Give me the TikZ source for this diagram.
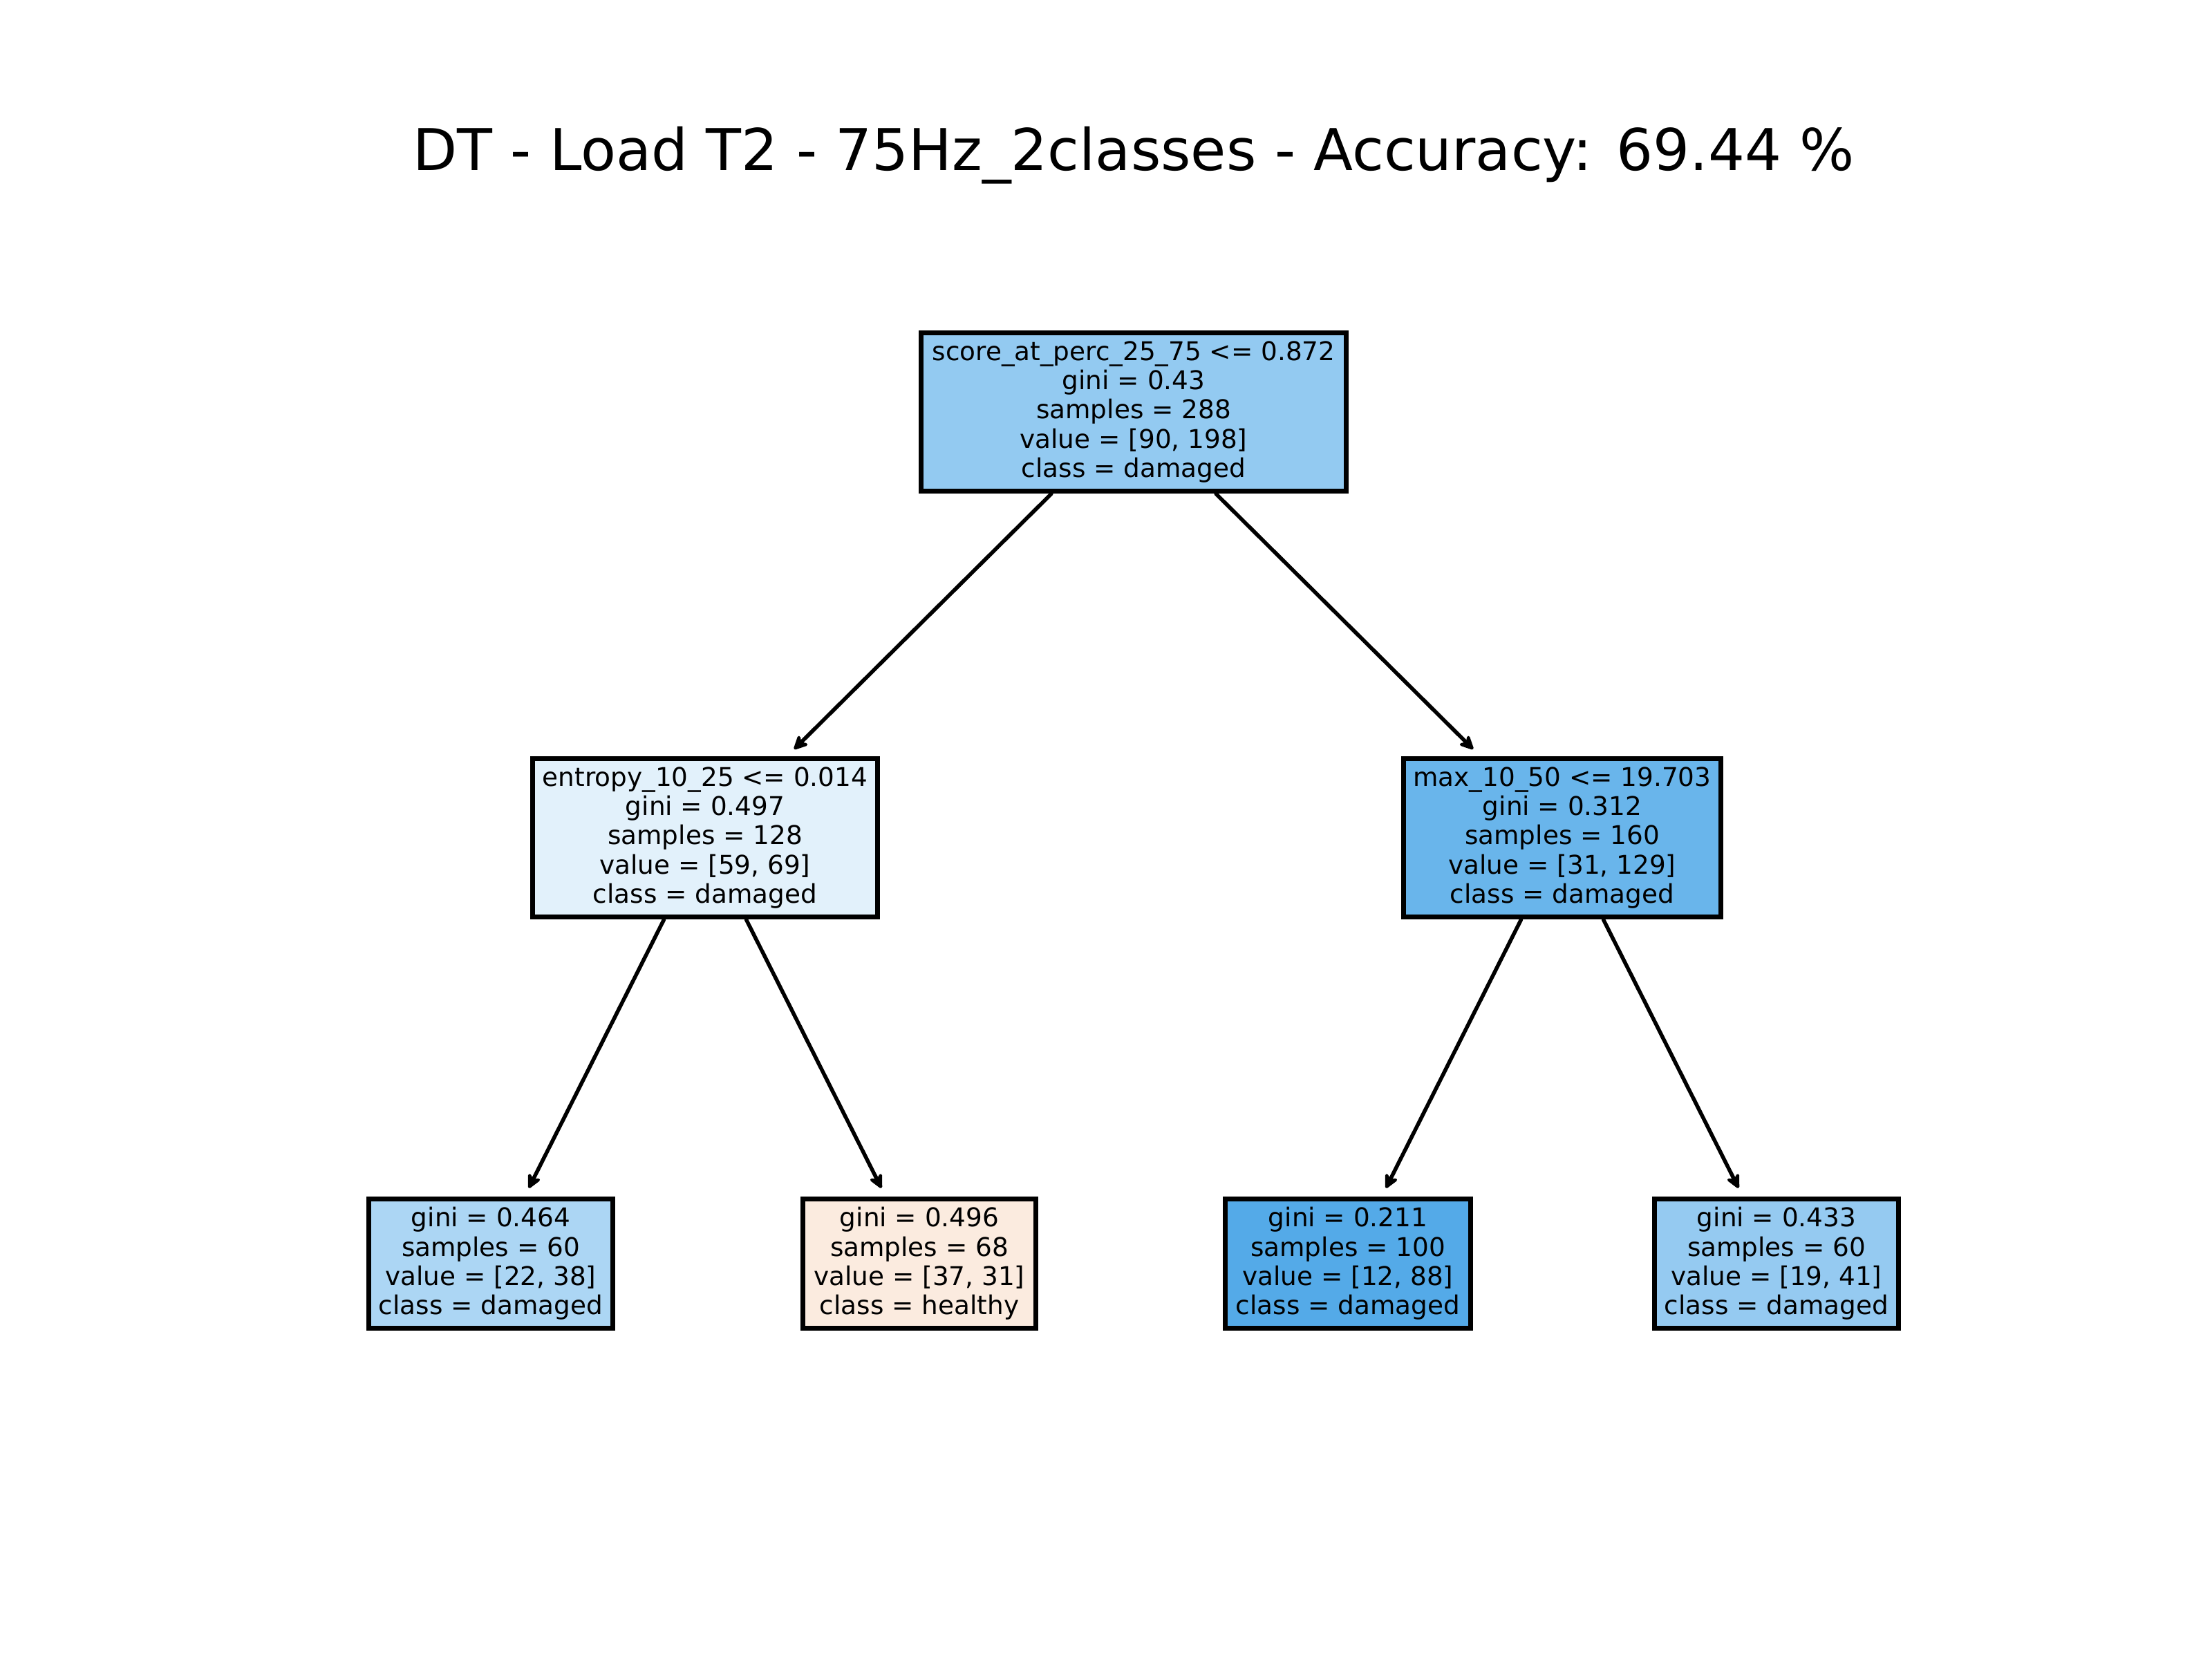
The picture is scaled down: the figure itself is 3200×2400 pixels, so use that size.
\documentclass[tikz,border=0pt]{standalone}
\usepackage{fontspec}
\setmainfont{DejaVu Sans}
\usetikzlibrary{arrows.meta}

% fill colours of the tree nodes (class colour blended with white by purity)
\definecolor{nroot}{RGB}{147,202,241}
\definecolor{nlmid}{RGB}{226,241,251}
\definecolor{nrmid}{RGB}{105,181,235}
\definecolor{nleafa}{RGB}{172,214,244}
\definecolor{nleafb}{RGB}{251,235,223}
\definecolor{nleafc}{RGB}{84,170,232}
\definecolor{nleafd}{RGB}{149,202,241}

\begin{document}
\begin{tikzpicture}[x=0.144pt,y=-0.144pt,
  treenode/.style={draw=black, line width=1.0pt, align=center, inner sep=0pt,
    font=\fontsize{5.38pt}{6.1pt}\selectfont},
  innernode/.style={treenode, minimum height=33.1pt},
  leafnode/.style={treenode, minimum height=26.9pt},
  edge/.style={line width=0.8pt, line cap=round,
    -{Stealth[length=3.7pt,width=3.6pt,inset=1.2pt,round]}, shorten >=2pt}]
\useasboundingbox (0,0) rectangle (3200,2400);

\node[anchor=base, inner sep=0pt, font=\fontsize{12pt}{14pt}\selectfont] (title) at (1640,247)
  {DT - Load T2 - 75Hz\_2classes - Accuracy: 69.44 \%};

% split nodes
\node[innernode, fill=nroot, minimum width=88.6pt] (root) at (1640,596)
  {score\_at\_perc\_25\_75 <= 0.872\\gini = 0.43\\samples = 288\\value = [90, 198]\\class = damaged};
\node[innernode, fill=nlmid, minimum width=71.8pt] (lmid) at (1020,1212)
  {entropy\_10\_25 <= 0.014\\gini = 0.497\\samples = 128\\value = [59, 69]\\class = damaged};
\node[innernode, fill=nrmid, minimum width=66.2pt] (rmid) at (2260,1212)
  {max\_10\_50 <= 19.703\\gini = 0.312\\samples = 160\\value = [31, 129]\\class = damaged};

% leaves
\node[leafnode, fill=nleafa, minimum width=50.7pt] (leafa) at (710,1828)
  {gini = 0.464\\samples = 60\\value = [22, 38]\\class = damaged};
\node[leafnode, fill=nleafb, minimum width=48.4pt] (leafb) at (1330,1828)
  {gini = 0.496\\samples = 68\\value = [37, 31]\\class = healthy};
\node[leafnode, fill=nleafc, minimum width=51.1pt] (leafc) at (1950,1828)
  {gini = 0.211\\samples = 100\\value = [12, 88]\\class = damaged};
\node[leafnode, fill=nleafd, minimum width=50.9pt] (leafd) at (2570,1828)
  {gini = 0.433\\samples = 60\\value = [19, 41]\\class = damaged};

% connectors
\draw[edge] (root) -- (lmid);
\draw[edge] (root) -- (rmid);
\draw[edge] (lmid) -- (leafa);
\draw[edge] (lmid) -- (leafb);
\draw[edge] (rmid) -- (leafc);
\draw[edge] (rmid) -- (leafd);
\end{tikzpicture}
\end{document}
